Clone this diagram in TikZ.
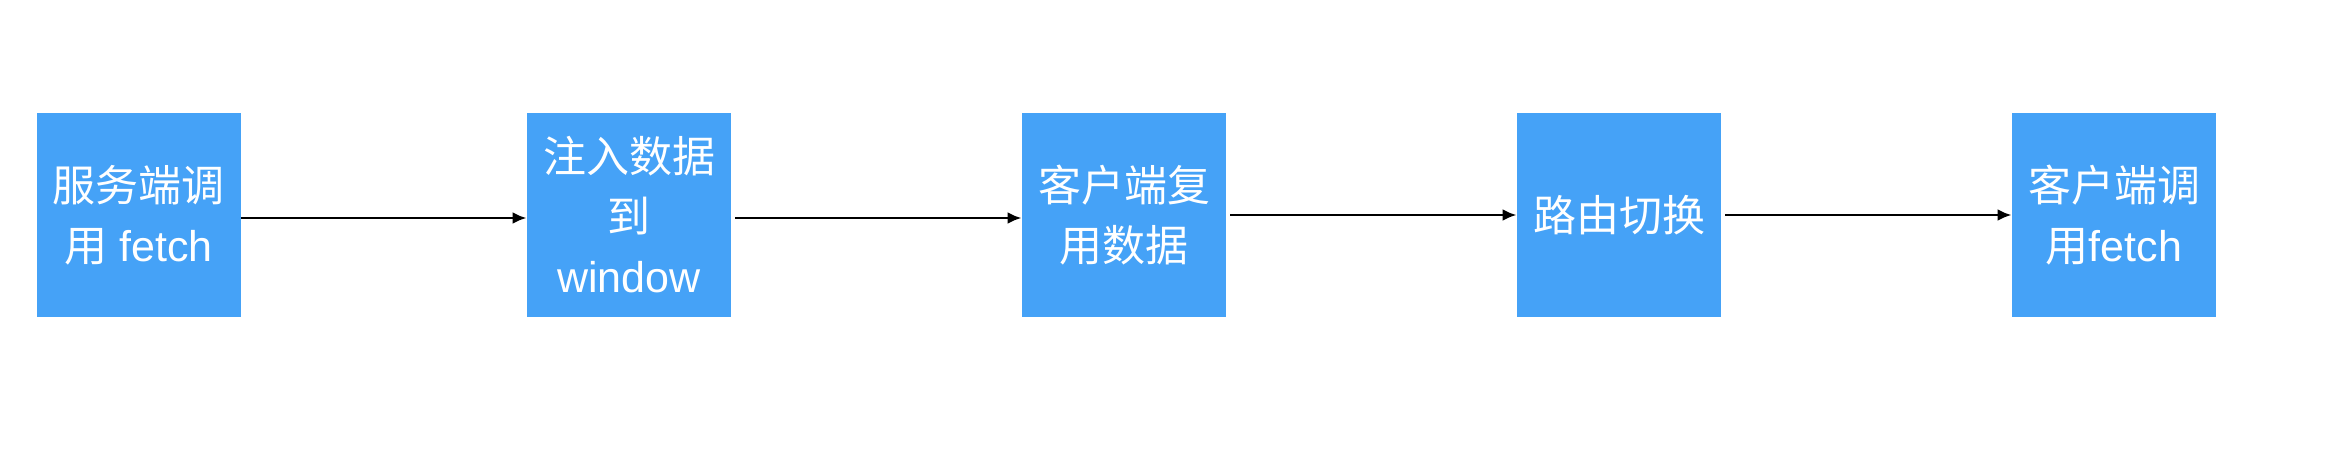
\documentclass[tikz,border=0pt]{standalone}
\usepackage{fontspec}
\setmainfont{Liberation Sans}
\newfontfamily\cjk{Noto Sans CJK SC}
\usetikzlibrary{arrows.meta}
\definecolor{boxblue}{RGB}{69,162,247}

\begin{document}
\begin{tikzpicture}[node distance = 247.5pt, x = 0.5pt, y = -0.5pt,
                    box/.style = {rectangle, fill = boxblue, text = white, align = center,
                                  minimum width = 102pt, minimum height = 102pt, inner sep = 0pt,
                                  font = \fontsize{21.5pt}{30pt}\selectfont},
                    flow/.style = {line width = 1.4pt, -{Latex[length = 7pt, width = 6pt]}}]
                        \useasboundingbox (0,0) rectangle (2334,468);

                        \node (server) [box] at (138.5,215) {{\cjk 服务端调}\\{\cjk 用} fetch};
                        \node (inject) [box, right of = server, node distance = 245.25pt] {{\cjk 注入数据}\\{\cjk 到}\\window};
                        \node (reuse) [box, right of = inject] {{\cjk 客户端复}\\{\cjk 用数据}};
                        \node (route) [box, right of = reuse] {\cjk 路由切换};
                        \node (client) [box, right of = route] {{\cjk 客户端调}\\{\cjk 用}fetch};

                        \draw [flow] ([yshift = -1.5pt]server.east) -- ([yshift = -1.5pt]inject.west);
                        \draw [flow, shorten <= 2pt] ([yshift = -1.5pt]inject.east) -- ([yshift = -1.5pt]reuse.west);
                        \draw [flow, shorten <= 2pt] (reuse) -- (route);
                        \draw [flow, shorten <= 2pt] (route) -- (client);
                    \end{tikzpicture}
\end{document}
